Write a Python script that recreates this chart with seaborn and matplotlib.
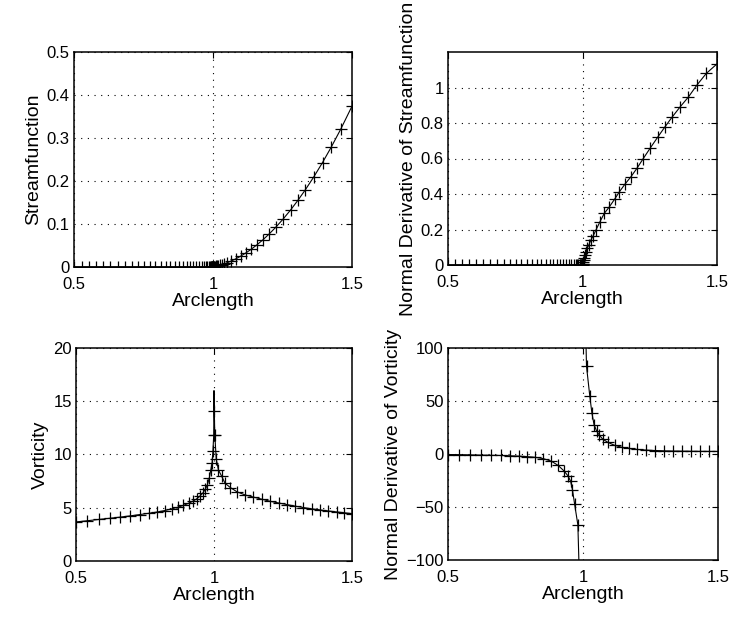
import matplotlib
matplotlib.use("Agg")
import matplotlib.pyplot as plt
import seaborn as sns
import pandas as pd

# ---------------- data ----------------
# top panels: fine boundary grid
top_left_x = [0.5, 0.527, 0.553, 0.579, 0.605, 0.631, 0.657, 0.683, 0.707, 0.73,
              0.752, 0.773, 0.793, 0.812, 0.83, 0.847, 0.863, 0.878, 0.892, 0.905,
              0.917, 0.929, 0.94, 0.95, 0.959, 0.967, 0.974, 0.98, 0.985, 0.989,
              0.992, 0.994, 0.996, 0.997, 0.998, 0.999, 0.9995]
top_right_x = [1.0, 1.0005, 1.001, 1.002, 1.004, 1.006, 1.009, 1.013, 1.018, 1.024,
               1.031, 1.04, 1.05, 1.065, 1.081, 1.1, 1.119, 1.137, 1.158, 1.18,
               1.202, 1.226, 1.251, 1.279, 1.305, 1.332, 1.363, 1.394, 1.425, 1.46, 1.5]

stream_left = [0, 0, 0, 0, 0, 0, 0, 0, 0, 0, 0, 0, 0, 0, 0, 0, 0, 0, 0, 0,
               0, 0, 0, 0, 0, 0, 0, 0, 0, 0, 0, 0, 0, 0, 0, 0, 0]
stream_right = [0.0, 0.0001, 0.0001, 0.0003, 0.0005, 0.0008, 0.0013, 0.0019, 0.0028, 0.0039,
                0.0052, 0.0072, 0.0097, 0.0137, 0.0187, 0.0254, 0.0331, 0.0411, 0.0515, 0.0635,
                0.0768, 0.0926, 0.1106, 0.1325, 0.1547, 0.1794, 0.2100, 0.2430, 0.2784, 0.3212, 0.374]

dstream_left = [0, 0, 0, 0, 0, 0, 0, 0, 0, 0, 0, 0, 0, 0, 0, 0, 0, 0, 0, 0,
                0, 0, 0, 0, 0, 0, 0, 0, 0, 0, 0, 0, 0, 0, 0, 0, 0]
dstream_right = [0.0, 0.004, 0.008, 0.016, 0.028, 0.04, 0.055, 0.075, 0.095, 0.115,
                 0.14, 0.165, 0.197, 0.244, 0.291, 0.328, 0.37, 0.412, 0.456, 0.497,
                 0.544, 0.6, 0.657, 0.719, 0.775, 0.831, 0.891, 0.947, 1.013, 1.079, 1.133]

# vorticity
vort_left_x = [0.5, 0.541, 0.582, 0.622, 0.66, 0.697, 0.731, 0.764, 0.794, 0.822,
               0.847, 0.869, 0.889, 0.908, 0.924, 0.938, 0.949, 0.96, 0.969, 0.976,
               0.983, 0.988, 0.993, 0.996, 0.999]
vort_left = [3.67, 3.78, 3.9, 4.01, 4.12, 4.24, 4.36, 4.48, 4.6, 4.74,
             4.9, 5.05, 5.22, 5.42, 5.62, 5.85, 6.1, 6.4, 6.75, 7.15,
             7.8, 8.5, 9.2, 10.3, 11.8]
vort_peak_x = [1.0]
vort_peak = [16.0]
vort_right_x = [1.001, 1.003, 1.008, 1.016, 1.028, 1.04, 1.059, 1.083, 1.113, 1.143,
                1.174, 1.204, 1.234, 1.264, 1.294, 1.324, 1.354, 1.384, 1.414, 1.444,
                1.472, 1.5]
vort_right = [14.1, 11.8, 9.6, 8.55, 7.95, 7.3, 6.9, 6.5, 6.2, 6.0,
              5.8, 5.6, 5.45, 5.3, 5.15, 5.02, 4.9, 4.8, 4.7, 4.61,
              4.53, 4.45]

# normal derivative of vorticity
dvort_left_x = [0.5, 0.541, 0.582, 0.622, 0.66, 0.697, 0.731, 0.764, 0.794, 0.822,
                0.852, 0.883, 0.908, 0.929, 0.944, 0.954, 0.961, 0.969, 0.981, 0.988,
                0.993, 0.997]
dvort_left = [-0.5, -0.6, -0.8, -1.0, -1.2, -1.4, -1.7, -2.0, -2.5, -3.1,
              -4.3, -6.8, -10.8, -15.8, -20.5, -25.6, -33.8, -47.4, -66.9, -130,
              -200, -450]
dvort_right_x = [1.003, 1.007, 1.013, 1.025, 1.033, 1.041, 1.05, 1.06, 1.073, 1.092,
                 1.117, 1.143, 1.17, 1.2, 1.233, 1.266, 1.3, 1.333, 1.366, 1.4,
                 1.433, 1.466, 1.5]
dvort_right = [400, 150, 82.7, 55, 38.6, 27.6, 22, 18, 14, 11,
               8.2, 6.4, 5.2, 4.3, 3.7, 3.3, 3.0, 2.8, 2.7, 2.6,
               2.5, 2.45, 2.4]

x_ticks = [0.5, 1.0, 1.5]
x_tick_labels = ["0.5", "1", "1.5"]

# ---------------- style ----------------
sns.set_theme(style="white")
plt.rcParams["font.family"] = ["Liberation Sans", "DejaVu Sans"]
plt.rcParams["axes.unicode_minus"] = True

fig = plt.figure(figsize=(7.33, 6.17), dpi=100)
W, H = 733, 617


def make_ax(x0, y0, x1, y1):
    return fig.add_axes([x0 / W, 1 - y1 / H, (x1 - x0) / W, (y1 - y0) / H])


ax_tl = make_ax(74, 52, 352, 267)
ax_tr = make_ax(448, 52, 717, 265)
ax_bl = make_ax(76, 348, 352, 561)
ax_br = make_ax(448, 348, 718, 560)

line_kw = dict(color="black", linewidth=0.8, estimator=None, sort=False)
mark_kw = dict(color="black", marker="+", markersize=8, markeredgewidth=0.9,
               markeredgecolor="black", linewidth=0.8, estimator=None, sort=False)

# top left: streamfunction
df = pd.DataFrame({"s": top_left_x + top_right_x, "v": stream_left + stream_right})
sns.lineplot(data=df, x="s", y="v", ax=ax_tl, **mark_kw)

# top right: normal derivative of streamfunction
df = pd.DataFrame({"s": top_left_x + top_right_x, "v": dstream_left + dstream_right})
sns.lineplot(data=df, x="s", y="v", ax=ax_tr, **mark_kw)

# bottom left: vorticity
df_line = pd.DataFrame({"s": vort_left_x + vort_peak_x + vort_right_x,
                        "v": vort_left + vort_peak + vort_right})
sns.lineplot(data=df_line, x="s", y="v", ax=ax_bl, **line_kw)
df_mark = pd.DataFrame({"s": vort_left_x + vort_right_x, "v": vort_left + vort_right})
sns.lineplot(data=df_mark, x="s", y="v", ax=ax_bl, linestyle="none",
             **{k: v for k, v in mark_kw.items() if k != "linewidth"})

# bottom right: normal derivative of vorticity
df = pd.DataFrame({"s": dvort_left_x, "v": dvort_left})
sns.lineplot(data=df, x="s", y="v", ax=ax_br, **mark_kw)
df = pd.DataFrame({"s": dvort_right_x, "v": dvort_right})
sns.lineplot(data=df, x="s", y="v", ax=ax_br, **mark_kw)

settings = [
    (ax_tl, (0, 0.5), [0, 0.1, 0.2, 0.3, 0.4, 0.5], ["0", "0.1", "0.2", "0.3", "0.4", "0.5"], "Streamfunction"),
    (ax_tr, (0, 1.2), [0, 0.2, 0.4, 0.6, 0.8, 1.0], ["0", "0.2", "0.4", "0.6", "0.8", "1"], "Normal Derivative of Streamfunction"),
    (ax_bl, (0, 20), [0, 5, 10, 15, 20], ["0", "5", "10", "15", "20"], "Vorticity"),
    (ax_br, (-100, 100), [-100, -50, 0, 50, 100], ["\u2212100", "\u221250", "0", "50", "100"], "Normal Derivative of Vorticity"),
]

for ax, ylim, yt, ytl, ylab in settings:
    ax.set_xlim(0.5, 1.5)
    ax.set_ylim(*ylim)
    ax.set_xticks(x_ticks)
    ax.set_xticklabels(x_tick_labels)
    ax.set_yticks(yt)
    ax.set_yticklabels(ytl)
    ax.set_xlabel("Arclength", fontsize=14, color="black", labelpad=1)
    ax.set_ylabel(ylab, fontsize=14, color="black", labelpad=3)
    ax.tick_params(direction="in", length=4, width=0.8, labelsize=12,
                   colors="black", top=True, right=True)
    ax.tick_params(axis="x", pad=7)
    ax.tick_params(axis="y", pad=3)
    ax.grid(True, color="black", linestyle=(0, (1, 5)), linewidth=0.8)
    ax.set_facecolor("white")
    for sp in ax.spines.values():
        sp.set_visible(True)
        sp.set_color("black")
        sp.set_linewidth(1.1)
    for lbl in ax.get_xticklabels() + ax.get_yticklabels():
        lbl.set_color("black")

fig.savefig("out.png", dpi=100, facecolor="white")
